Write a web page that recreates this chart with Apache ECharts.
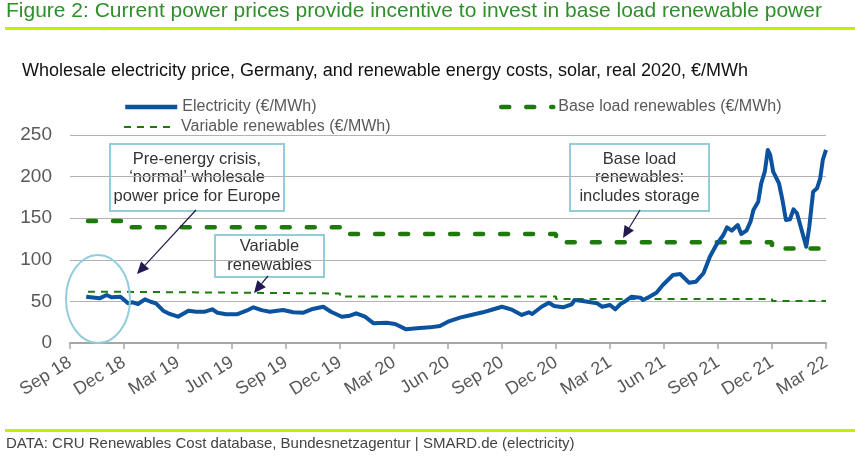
<!DOCTYPE html>
<html>
<head>
<meta charset="utf-8">
<script src="https://cdn.jsdelivr.net/npm/echarts@6/dist/echarts.min.js"></script>
<style>
  html, body { margin: 0; padding: 0; background: #fff; }
  #chart { width: 855px; height: 459px; }
</style>
</head>
<body>
<div id="chart"></div>
<script>
// quarter tick labels, Sep 18 .. Mar 22
var tickLabels = ['Sep 18', 'Dec 18', 'Mar 19', 'Jun 19', 'Sep 19', 'Dec 19', 'Mar 20', 'Jun 20',
  'Sep 20', 'Dec 20', 'Mar 21', 'Jun 21', 'Sep 21', 'Dec 21', 'Mar 22'];

// wholesale electricity price
var elecDates = ['2018-09-28', '2018-10-21', '2018-11-02', '2018-11-10', '2018-11-25', '2018-12-08', '2018-12-16', '2018-12-25',
  '2019-01-06', '2019-01-16', '2019-01-25', '2019-02-06', '2019-02-16', '2019-03-01', '2019-03-19', '2019-04-01',
  '2019-04-16', '2019-04-28', '2019-05-07', '2019-05-22', '2019-06-09', '2019-06-25', '2019-07-07', '2019-07-21',
  '2019-08-04', '2019-08-27', '2019-09-13', '2019-09-30', '2019-10-16', '2019-11-03', '2019-11-16', '2019-12-04',
  '2019-12-18', '2019-12-29', '2020-01-13', '2020-01-28', '2020-02-18', '2020-03-03', '2020-03-22', '2020-04-09',
  '2020-05-01', '2020-05-18', '2020-06-01', '2020-06-21', '2020-07-10', '2020-07-30', '2020-08-13', '2020-09-01',
  '2020-09-16', '2020-10-04', '2020-10-16', '2020-10-22', '2020-11-07', '2020-11-19', '2020-11-28', '2020-12-13',
  '2020-12-28', '2021-01-02', '2021-01-16', '2021-02-09', '2021-02-17', '2021-03-01', '2021-03-10', '2021-03-19',
  '2021-03-28', '2021-04-07', '2021-04-22', '2021-04-26', '2021-05-07', '2021-05-19', '2021-05-30', '2021-06-16',
  '2021-06-28', '2021-07-13', '2021-07-25', '2021-08-07', '2021-08-18', '2021-08-29', '2021-09-10', '2021-09-16',
  '2021-09-24', '2021-09-28', '2021-10-04', '2021-10-10', '2021-10-19', '2021-10-26', '2021-10-31', '2021-11-08',
  '2021-11-13', '2021-11-19', '2021-11-24', '2021-11-28', '2021-12-03', '2021-12-13', '2021-12-19', '2021-12-25',
  '2022-01-01', '2022-01-07', '2022-01-13', '2022-01-21', '2022-01-29', '2022-02-03', '2022-02-09', '2022-02-15',
  '2022-02-20', '2022-02-24', '2022-03-01'];
var elecValues = [55.6, 53.7, 57.7, 55, 55.6, 47.7, 48.9, 46.9,
  52.5, 49.6, 47.7, 38.8, 34.9, 31.6, 38.8, 37.6,
  37.6, 40.5, 36.4, 34.5, 34.5, 38.8, 42.9, 39.5,
  37.5, 39.7, 36.9, 36.4, 40.9, 43.6, 37.6, 31.6,
  32.8, 35.7, 31.6, 23.6, 24.4, 22.8, 16.4, 17.6,
  18.8, 20.4, 25.6, 30.5, 33.7, 36.9, 39.7, 43.6,
  40.5, 33.7, 36.9, 34.9, 43.6, 48.4, 44.5, 42.9,
  46.5, 51.7, 50.5, 47.7, 43.6, 45.7, 40.5, 46.9,
  50.5, 55.6, 54.5, 51.7, 55.6, 60.5, 69.7, 81.7,
  82.9, 72.5, 73.7, 83.8, 103.7, 117.8, 129.8, 139,
  135, 137.9, 141.8, 131, 135, 145.8, 159.9, 169.8,
  191.9, 205.9, 232, 226, 205.9, 192, 171.9, 147.8,
  148.7, 160.7, 155.9, 135.8, 115.7, 139.8, 181.9, 185.9,
  197.9, 220, 232];

// renewable cost levels (each holds until the next date)
var costDates = ['2018-10-01', '2018-12-01', '2019-12-01', '2020-12-01', '2021-12-01', '2022-03-01'];
var baseLoadValues = [146.5, 139, 131, 121, 113.5, 113.5];
var variableValues = [61.5, 59.5, 56, 53, 50.5, 50.5];

// months since 1 Sep 2018
function monthsFromStart(s) {
  var p = s.split('-');
  var y = +p[0], m = +p[1], d = +p[2];
  var dim = new Date(y, m, 0).getDate();
  return (y - 2018) * 12 + (m - 9) + (d - 1) / dim;
}
function pairs(dates, vals) {
  var out = [];
  for (var i = 0; i < dates.length; i++) out.push([monthsFromStart(dates[i]), vals[i]]);
  return out;
}

var font = 'Liberation Sans, Arial, sans-serif';
var navy = '#1f1a4f';
var boxBlue = '#92cddc';
var lime = '#c2ee00';
var blue = '#0b539f';
var green = '#1f7a0c';

function arrow(x1, y1, x2, y2) {
  var a = Math.atan2(y2 - y1, x2 - x1), L = 12, W = 5.5;
  var bx = x2 - L * Math.cos(a), by = y2 - L * Math.sin(a);
  return [
    { type: 'line', z: 20, shape: { x1: x1, y1: y1, x2: bx, y2: by }, style: { stroke: navy, lineWidth: 1.2 } },
    { type: 'polygon', z: 20, shape: { points: [[x2, y2],
      [bx + W * Math.sin(a), by - W * Math.cos(a)], [bx - W * Math.sin(a), by + W * Math.cos(a)]] },
      style: { fill: navy } }
  ];
}
function box(x, y, w, h, text) {
  return {
    type: 'group', z: 20, left: x, top: y,
    children: [
      { type: 'rect', shape: { x: 0, y: 0, width: w, height: h }, style: { fill: '#fff', stroke: boxBlue, lineWidth: 2 } },
      { type: 'text', x: w / 2, y: h / 2, style: { text: text, fill: '#333', font: '16.5px ' + font, align: 'center', verticalAlign: 'middle', lineHeight: 18.5 } }
    ]
  };
}

var chart = echarts.init(document.getElementById('chart'));
var graphics = [
  { type: 'text', left: 6, top: 1, style: { text: 'Figure 2: Current power prices provide incentive to invest in base load renewable power', fill: '#2f8f2a', font: '21px ' + font } },
  { type: 'rect', shape: { x: 5, y: 27, width: 850, height: 3 }, style: { fill: lime } },
  { type: 'text', left: 22, top: 62, style: { text: 'Wholesale electricity price, Germany, and renewable energy costs, solar, real 2020, €/MWh', fill: '#111', font: '18px ' + font } },
  { type: 'rect', shape: { x: 5, y: 429, width: 850, height: 3 }, style: { fill: lime } },
  { type: 'text', left: 6, top: 436, style: { text: 'DATA: CRU Renewables Cost database, Bundesnetzagentur | SMARD.de (electricity)', fill: '#444', font: '15px ' + font } },
  { type: 'ellipse', z: 20, shape: { cx: 98, cy: 299, rx: 32, ry: 44 }, style: { fill: 'none', stroke: boxBlue, lineWidth: 2 } },
  box(109, 143, 174, 67, 'Pre-energy crisis,\n\u2018normal\u2019 wholesale\npower price for Europe'),
  box(214, 234, 109, 42, 'Variable\nrenewables'),
  box(569, 143, 139, 67, 'Base load\nrenewables:\nincludes storage')
].concat(arrow(196, 210, 137, 274), arrow(268, 276, 254, 293), arrow(640, 210, 623, 238));

function legendAt(left, top, name, lineStyle) {
  return {
    left: left, top: top, data: [name], itemWidth: 52, itemHeight: 14,
    itemStyle: { opacity: 0 },
    lineStyle: lineStyle,
    textStyle: { color: '#595959', fontSize: 16, fontFamily: font }
  };
}

var option = {
  animation: false,
  textStyle: { fontFamily: font },
  grid: { left: 70, right: 29, top: 135, bottom: 116 },
  legend: [
    legendAt(118, 94, 'Electricity (€/MWh)', { width: 4.5, color: blue }),
    legendAt(494, 94, 'Base load renewables (€/MWh)', { width: 4.5, color: green }),
    legendAt(118, 114, 'Variable renewables (€/MWh)', { width: 2, color: green })
  ],
  xAxis: {
    type: 'value', min: 0, max: 42, interval: 3,
    splitLine: { show: false },
    axisLine: { lineStyle: { color: '#a6a6a6', width: 2 } },
    axisTick: { length: 6, lineStyle: { color: '#a6a6a6', width: 1.5 } },
    axisLabel: {
      rotate: 32, margin: 18, fontSize: 18, color: '#595959', fontFamily: font,
      formatter: function (v) { return tickLabels[Math.round(v / 3)]; }
    }
  },
  yAxis: {
    type: 'value', min: 0, max: 250, interval: 50,
    axisLine: { show: false }, axisTick: { show: false },
    splitLine: { lineStyle: { color: '#b3b3b3', width: 1 } },
    axisLabel: { fontSize: 19, color: '#595959', margin: 18, fontFamily: font }
  },
  series: [
    {
      name: 'Base load renewables (€/MWh)', type: 'line', step: 'end', symbol: 'none',
      data: pairs(costDates, baseLoadValues),
      color: green,
      lineStyle: { color: green, width: 4.5, type: [8, 17], cap: 'round' }
    },
    {
      name: 'Variable renewables (€/MWh)', type: 'line', step: 'end', symbol: 'none',
      data: pairs(costDates, variableValues),
      color: green,
      lineStyle: { color: green, width: 2, type: [7, 6] }
    },
    {
      name: 'Electricity (€/MWh)', type: 'line', symbol: 'none', z: 5,
      data: pairs(elecDates, elecValues),
      color: blue,
      lineStyle: { color: blue, width: 4, join: 'round' }
    }
  ],
  graphic: graphics
};
chart.setOption(option);
</script>
</body>
</html>
